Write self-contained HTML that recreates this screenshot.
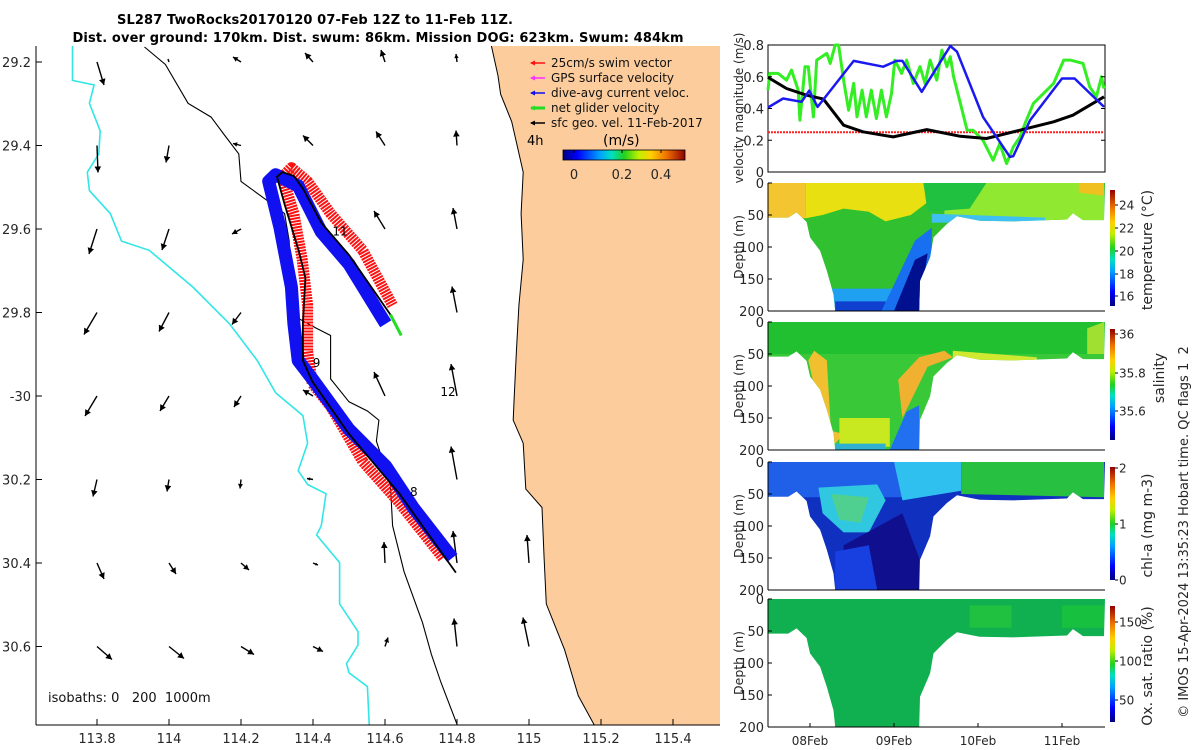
<!DOCTYPE html>
<html><head><meta charset="utf-8"><style>
body{margin:0;background:#fff}
svg{display:block;font-family:"DejaVu Sans","Liberation Sans",sans-serif}
</style></head><body>
<svg id="s" width="1200" height="750" viewBox="0 0 1200 750" xmlns="http://www.w3.org/2000/svg">
<defs>
<linearGradient id="jetH" x1="0" x2="1" y1="0" y2="0">
<stop offset="0" stop-color="#00007f"/><stop offset="0.12" stop-color="#0000ff"/><stop offset="0.3" stop-color="#00a0ff"/><stop offset="0.4" stop-color="#00e0c0"/><stop offset="0.5" stop-color="#20d020"/><stop offset="0.62" stop-color="#c0f000"/><stop offset="0.72" stop-color="#ffd000"/><stop offset="0.85" stop-color="#f07000"/><stop offset="1" stop-color="#900000"/>
</linearGradient>
<linearGradient id="jetV" x1="0" x2="0" y1="1" y2="0">
<stop offset="0" stop-color="#00007f"/><stop offset="0.12" stop-color="#0000ff"/><stop offset="0.3" stop-color="#00a0ff"/><stop offset="0.4" stop-color="#00e0c0"/><stop offset="0.5" stop-color="#20d020"/><stop offset="0.62" stop-color="#c0f000"/><stop offset="0.72" stop-color="#ffd000"/><stop offset="0.85" stop-color="#f07000"/><stop offset="1" stop-color="#900000"/>
</linearGradient>
<clipPath id="mapclip"><rect x="36" y="46" width="684" height="679"/></clipPath>
</defs>
<rect width="1200" height="750" fill="#fff"/>
<text x="315" y="24" text-anchor="middle" font-weight="bold" font-size="13" textLength="396">SL287 TwoRocks20170120 07-Feb 12Z to 11-Feb 11Z.</text>
<text x="378" y="42" text-anchor="middle" font-weight="bold" font-size="13" textLength="611">Dist. over ground: 170km. Dist. swum: 86km. Mission DOG: 623km. Swum: 484km</text>
<g id="map"></g>
<g id="vel"></g>
<g id="sec"></g>
</svg>
<script>
// ---------- MAP DATA ----------
const lonTicks=[113.8,114,114.2,114.4,114.6,114.8,115,115.2,115.4];
const latTicks=[29.2,29.4,29.6,29.8,30.0,30.2,30.4,30.6];
const latTickLabels=["29.2","29.4","29.6","29.8","-30","30.2","30.4","30.6"];
const coastLon=[114.885,114.914,114.921,114.952,114.984,114.978,114.984,114.972,114.965,114.959,114.956,114.984,114.991,115.036,115.042,115.048,115.099,115.137,115.189];
const coastLat=[29.12,29.233,29.277,29.343,29.464,29.563,29.673,29.783,29.893,30.003,30.058,30.113,30.223,30.267,30.388,30.498,30.608,30.718,30.80];
const iso1000Lon=[113.732,113.732,113.792,113.779,113.809,113.805,113.773,113.779,113.837,113.868,113.945,114.066,114.168,114.245,114.296,114.372,114.385,114.359,114.385,114.436,114.423,114.410,114.474,114.474,114.525,114.525,114.493,114.500,114.551,114.557];
const iso1000Lat=[29.12,29.244,29.255,29.299,29.365,29.420,29.464,29.508,29.563,29.629,29.651,29.739,29.827,29.915,29.992,30.047,30.113,30.179,30.212,30.234,30.311,30.333,30.399,30.498,30.564,30.597,30.641,30.663,30.696,30.80];
const iso200Lon=[113.932,113.990,114.053,114.117,114.155,114.194,114.200,114.270,114.321,114.334,114.340,114.340,114.410,114.449,114.449,114.500,114.551,114.583,114.576,114.615,114.621,114.653,114.704,114.729,114.755,114.806];
const iso200Lat=[29.164,29.206,29.299,29.332,29.376,29.420,29.486,29.530,29.563,29.629,29.739,29.805,29.838,29.855,29.959,30.014,30.036,30.058,30.108,30.212,30.311,30.421,30.542,30.619,30.685,30.80];
const trackLon=[114.797,114.640,114.500,114.398,114.372,114.372,114.379,114.360,114.321,114.300,114.315,114.347,114.372,114.423,114.500,114.615];
const trackLat=[30.423,30.234,30.091,29.965,29.915,29.827,29.717,29.651,29.541,29.475,29.464,29.473,29.503,29.585,29.662,29.805];
const currLon=[114.787,114.678,114.602,114.500,114.398,114.359,114.347,114.340,114.308,114.277,114.296,114.359,114.423,114.500,114.602];
const currLat=[30.388,30.267,30.168,30.080,29.959,29.915,29.827,29.739,29.596,29.486,29.470,29.497,29.607,29.684,29.827];
const swimLon=[114.761,114.640,114.538,114.449,114.398,114.385,114.385,114.370,114.347,114.315,114.340,114.385,114.449,114.538,114.621];
const swimLat=[30.388,30.256,30.157,30.025,29.970,29.893,29.783,29.673,29.563,29.475,29.453,29.486,29.563,29.651,29.783];
const arrowLon=[113.8,114,114.2,114.4,114.6,114.8,115];
const arrowLat=[29.2,29.4,29.6,29.8,30.0,30.2,30.4,30.6];
const arrowU=[[7,-1,-8,-8,-4,-1,null],[1,-3,-8,-10,-9,-1,null],[-8,-7,-9,null,-11,-4,null],[-13,-10,-9,null,null,-5,null],[-12,-9,-7,-10,-11,-6,null],[-4,-2,-1,-6,null,-6,null],[7,7,8,5,-1,-4,-2],[15,15,13,10,3,-3,-6]];
const arrowV=[[-23,3,5,9,12,8,null],[-27,-17,2,10,14,15,null],[-25,-21,-5,null,18,21,null],[-22,-19,-12,null,null,26,null],[-20,-15,-11,6,24,32,null],[-17,-12,-9,1,null,33,null],[-16,-11,-7,-2,21,32,28],[-13,-12,-8,-5,9,28,29]];
const trackLabels=["11","9","12","8"];
const trackLabelLon=[114.475,114.41,114.775,114.68];
const trackLabelLat=[29.615,29.93,30.0,30.24];
// ---------- VELOCITY DATA ----------
const velTicks=[0,0.2,0.4,0.6,0.8];
const dayTicks=[0.5,1.5,2.5,3.5];
const dayTickLabels=["08Feb","09Feb","10Feb","11Feb"];
const blueT=[0,0.18,0.4,0.49,0.59,1.02,1.37,1.53,1.60,1.83,2.17,2.25,2.56,2.88,2.92,3.12,3.5,3.65,4.0];
const blueV=[0.406,0.463,0.442,0.512,0.41,0.70,0.663,0.70,0.70,0.505,0.794,0.758,0.347,0.095,0.10,0.326,0.589,0.589,0.41];
const blackT=[0,0.22,0.46,0.66,0.90,1.13,1.49,1.89,2.29,2.6,3.0,3.4,3.63,4.0];
const blackV=[0.596,0.526,0.484,0.459,0.295,0.253,0.221,0.267,0.225,0.211,0.263,0.316,0.358,0.474];
const redT=[0,4];
const redV=[0.25,0.25];
const greenT=[0,0.02,0.12,0.22,0.28,0.36,0.38,0.44,0.48,0.54,0.58,0.70,0.74,0.80,0.84,0.90,0.96,1.02,1.06,1.12,1.17,1.23,1.29,1.35,1.41,1.47,1.51,1.59,1.65,1.73,1.81,1.87,1.93,2.01,2.07,2.13,2.17,2.21,2.29,2.37,2.44,2.56,2.68,2.76,2.84,2.92,3.0,3.06,3.16,3.28,3.40,3.52,3.60,3.75,3.83,3.91,3.97,4.0];
const greenV=[0.516,0.621,0.621,0.579,0.642,0.516,0.326,0.663,0.663,0.347,0.705,0.747,0.684,0.80,0.80,0.579,0.389,0.558,0.347,0.516,0.347,0.516,0.337,0.516,0.347,0.495,0.705,0.621,0.705,0.558,0.663,0.558,0.705,0.579,0.768,0.663,0.726,0.600,0.432,0.263,0.263,0.2,0.074,0.179,0.053,0.158,0.221,0.305,0.432,0.495,0.558,0.705,0.705,0.684,0.537,0.474,0.60,0.526];
// ---------- SECTION DATA ----------
const envT=[0,0.24,0.34,0.46,0.5,0.62,0.70,0.78,0.80,1.80,1.81,1.93,1.97,2.13,2.25,2.52,2.92,3.56,3.63,3.75,4.0];
const envD=[54,54,46,61,85,106,137,174,200,200,153,116,85,64,52,59,60,57,47,58,58];
const depthTicks=[0,50,100,150,200];

const NS='http://www.w3.org/2000/svg';
function mk(tag,attrs,parent){const e=document.createElementNS(NS,tag);for(const k in attrs)e.setAttribute(k,attrs[k]);parent.appendChild(e);return e;}
function txt(s,x,y,attrs,parent){const e=mk('text',Object.assign({x:x,y:y},attrs),parent);e.textContent=s;return e;}

// ---- map ----
const map=document.getElementById('map');
const X=lon=>97+(lon-113.8)*360;
const Y=lat=>62+(lat-29.2)*417.5;
const pts=(lo,la)=>lo.map((v,i)=>X(v).toFixed(1)+','+Y(la[i]).toFixed(1)).join(' ');
const mg=mk('g',{'clip-path':'url(#mapclip)'},map);
let land=mk('polygon',{points:pts(coastLon,coastLat)+' 730,740 730,40',fill:'#fccc9c',stroke:'#000','stroke-width':1},mg);


let l=mk('polyline',{points:pts(iso1000Lon,iso1000Lat),fill:'none',stroke:'#33e6e6','stroke-width':1.6},mg);


l=mk('polyline',{points:pts(iso200Lon,iso200Lat),fill:'none',stroke:'#000','stroke-width':1.1},mg);


arrowLat.forEach((la,r)=>{arrowLon.forEach((lo,c)=>{const u=arrowU[r][c],v=arrowV[r][c];if(u===null)return;
 const x0=X(lo),y0=Y(la),x1=x0+u,y1=y0-v;const g=mk('g',{},mg);
 
 
 mk('line',{x1:x0,y1:y0,x2:x1,y2:y1,stroke:'#000','stroke-width':1.4},g);
 const len=Math.hypot(u,v)||1,ux=u/len,uy=-v/len,h=Math.min(6,len*0.5);
 mk('polygon',{points:`${x1},${y1} ${x1-ux*h-uy*h*0.55},${y1-uy*h+ux*h*0.55} ${x1-ux*h+uy*h*0.55},${y1-uy*h-ux*h*0.55}`,fill:'#000'},g);});});
l=mk('polyline',{points:pts(swimLon,swimLat),fill:'none',stroke:'#ff1010','stroke-width':11,'stroke-dasharray':'2 1','stroke-linejoin':'round'},mg);


l=mk('polyline',{points:pts(currLon,currLat),fill:'none',stroke:'#1010f0','stroke-width':13,'stroke-linejoin':'round'},mg);


l=mk('polyline',{points:pts(trackLon,trackLat),fill:'none',stroke:'#000','stroke-width':1.8},mg);


l=mk('line',{x1:X(114.615),y1:Y(29.805),x2:X(114.645),y2:Y(29.855),stroke:'#22dd22','stroke-width':3},mg);


trackLabels.forEach((s,i)=>{const t=txt(s,X(trackLabelLon[i]),Y(trackLabelLat[i]),{'font-size':12,'text-anchor':'middle'},mg);
 
 });
mk('line',{x1:36,y1:46,x2:36,y2:725,stroke:'#000','stroke-width':1},map);
mk('line',{x1:36,y1:725,x2:720,y2:725,stroke:'#000','stroke-width':1},map);
lonTicks.forEach(v=>{mk('line',{x1:X(v),x2:X(v),y1:725,y2:719,stroke:'#000'},map);
 const t=txt(String(v),X(v),743,{'font-size':13,'text-anchor':'middle',fill:'#262626'},map);
 
 });
latTicks.forEach((v,i)=>{mk('line',{x1:36,x2:42,y1:Y(v),y2:Y(v),stroke:'#000'},map);
 const t=txt(latTickLabels[i],31,Y(v)+5,{'font-size':13,'text-anchor':'end',fill:'#262626'},map);
 
 });
txt('isobaths: 0\u00a0\u00a0\u00a0200\u00a0\u00a01000m',48,702,{'font-size':13,fill:'#111'},map);
const lg=mk('g',{},map);


const legTxt=['25cm/s swim vector','GPS surface velocity','dive-avg current veloc.','net glider velocity','sfc geo. vel. 11-Feb-2017'];
const legCol=['#ff1010','#ff30ff','#1010f0','#22dd22','#000'];
legTxt.forEach((s,i)=>{const y=63+i*15;mk('line',{x1:531,x2:545,y1:y,y2:y,stroke:legCol[i],'stroke-width':i==3?3:1.5},lg);
 mk('polygon',{points:`${530},${y} ${535},${y-2.5} ${535},${y+2.5}`,fill:legCol[i]},lg);
 const t=txt(s,551,y+4,{'font-size':12,fill:'#111'},lg);
 
 });
txt('4h',527,145,{'font-size':13},map);
txt('(m/s)',603,145,{'font-size':14},map);
mk('rect',{x:563,y:150,width:122,height:10,fill:'url(#jetH)',stroke:'#000','stroke-width':0.8},map);
[[0,574],[0.2,622],[0.4,661]].forEach(a=>{mk('line',{x1:a[1],x2:a[1],y1:150,y2:153,stroke:'#000'},map);txt(String(a[0]),a[1],179,{'font-size':13,'text-anchor':'middle',fill:'#262626'},map);});

// ---- velocity panel ----
const vel=document.getElementById('vel');
const TX=t=>768+t*84;
const VY=v=>172-v*158.75;
mk('rect',{x:768,y:45,width:337,height:127,fill:'#fff',stroke:'#000','stroke-width':1},vel);
const vline=(T,V,col,w,name,dash)=>{const a={points:T.map((t,i)=>TX(t).toFixed(1)+','+VY(Math.min(V[i],0.8)).toFixed(1)).join(' '),fill:'none',stroke:col,'stroke-width':w,'stroke-linejoin':'round'};if(dash)a['stroke-dasharray']=dash;const e=mk('polyline',a,vel);
 
 };
vline(redT,redV,'#ff2020',2,'swim-speed-line','2 1');
vline(greenT,greenV,'#33ee22',3,'net-glider-speed-line');
vline(blackT,blackV,'#000',3,'geo-speed-line');
vline(blueT,blueV,'#1a1af0',2.5,'current-speed-line');
velTicks.forEach(v=>{mk('line',{x1:768,x2:772,y1:VY(v),y2:VY(v),stroke:'#000'},vel);mk('line',{x1:1101,x2:1105,y1:VY(v),y2:VY(v),stroke:'#000'},vel);
 const t=txt(String(v),764,VY(v)+5,{'font-size':13,'text-anchor':'end',fill:'#262626'},vel);
 
 });
const vt=txt('velocity magnitude (m/s)',0,0,{'font-size':12,'text-anchor':'middle',transform:'translate(743,108) rotate(-90)',fill:'#262626'},vel);


// ---- sections ----
const sec=document.getElementById('sec');
const panels=[
 {top:183,name:'temperature',label:'temperature (°C)',cb:[190,306],ticks:[['24',205],['22',228],['20',251],['18',274],['16',296]],base:'#30c030',
  layers:[ ['#f3c530',[[0,0],[0.45,0],[0.45,55],[0,55]]],['#e8e010',[[0.45,0],[1.85,0],[1.9,30],[1.7,50],[1.4,60],[1.2,45],[0.9,40],[0.65,50],[0.45,55]]],
   ['#90e830',[[2.1,0],[4,0],[4,58],[2.1,58]]],['#20c040',[[1.85,0],[2.6,0],[2.4,40],[1.9,45]]],['#40c0f0',[[1.95,48],[3.3,54],[3.3,60],[1.95,62]]],
   ['#20a0f0',[[0.7,165],[1.5,165],[1.45,200],[0.75,200]]],['#1040d0',[[0.8,185],[1.4,185],[1.4,200],[0.8,200]]],['#1870f0',[[1.35,200],[1.75,90],[1.95,70],[1.95,120],[1.8,200]]],['#00108f',[[1.5,200],[1.75,120],[1.9,110],[1.8,200]]],['#f0c020',[[3.7,0],[4,0],[4,20],[3.7,15]]]]},
 {top:322,name:'salinity',label:'salinity',cb:[329,440],ticks:[['36',334],['35.8',373],['35.6',411]],base:'#38c838',
  layers:[ ['#20c030',[[0,0],[4,0],[4,50],[0,50]]],['#f0c030',[[0.55,45],[0.7,60],[0.75,170],[0.9,175],[0.8,190],[0.62,160],[0.55,100],[0.48,60]]],
   ['#c8e820',[[0.85,150],[1.45,150],[1.45,195],[0.85,195]]],['#f0b030',[[1.55,90],[1.8,55],[2.1,45],[2.2,55],[1.9,70],[1.75,110],[1.6,150]]],['#d0e830',[[2.2,45],[3.2,55],[3.2,62],[2.2,58]]],
   ['#2070f0',[[1.45,200],[1.65,140],[1.8,130],[1.8,200]]],['#30b0d0',[[0.8,190],[1.4,190],[1.4,200],[0.8,200]]],['#a0e030',[[3.8,10],[4,0],[4,50],[3.8,50]]]]},
 {top:462,name:'chlorophyll',label:'chl-a (mg m-3)',cb:[467,580],ticks:[['2',468],['1',524],['0',580]],base:'#1030c0',
  layers:[ ['#2060e8',[[0,0],[1.6,0],[1.6,55],[0,55]]],['#30c8e0',[[0.6,40],[1.3,35],[1.4,60],[1.2,110],[0.9,110],[0.65,80]]],['#50d090',[[0.75,50],[1.2,55],[1.1,95],[0.85,90]]],
   ['#30c0f0',[[1.5,0],[2.3,0],[2.3,45],[1.6,60]]],['#28c040',[[2.3,0],[4,0],[4,55],[2.3,50]]],['#10108f',[[0.9,130],[1.6,80],[1.8,150],[1.8,200],[0.9,200]]],['#1840e0',[[0.8,140],[1.2,130],[1.3,200],[0.8,200]]]]},
 {top:599,name:'oxygen',label:'Ox. sat. ratio (%)',cb:[606,722],ticks:[['150',622],['100',661],['50',700]],base:'#10b050',layers:[['#20c040',[[2.4,10],[2.9,10],[2.9,45],[2.4,45]]],['#18c040',[[3.5,10],[4,10],[4,45],[3.5,45]]]]}
];
panels.forEach((p,pi)=>{
 const g=mk('g',{},sec);
 
 
 const DY=d=>p.top+d*0.64;
 const cid='env'+pi;
 const cp=mk('clipPath',{id:cid},g);
 mk('polygon',{points:'768,'+p.top+' 1105,'+p.top+' '+envT.slice().reverse().map((t,i)=>TX(t).toFixed(1)+','+DY(envD[envD.length-1-i]).toFixed(1)).join(' ')},cp);
 const cg=mk('g',{'clip-path':'url(#'+cid+')'},g);
 mk('rect',{x:768,y:p.top,width:337,height:128,fill:p.base},cg);
 p.layers.forEach(L=>{mk('polygon',{points:L[1].map(q=>TX(q[0]).toFixed(1)+','+DY(q[1]).toFixed(1)).join(' '),fill:L[0]},cg);});
 mk('line',{x1:768,x2:768,y1:p.top,y2:p.top+128,stroke:'#000'},g);
 mk('line',{x1:768,x2:1105,y1:p.top+128,y2:p.top+128,stroke:'#000'},g);
 depthTicks.forEach(d=>{mk('line',{x1:768,x2:772,y1:DY(d),y2:DY(d),stroke:'#000'},g);
  const t=txt(String(d),764,DY(d)+5,{'font-size':13,'text-anchor':'end',fill:'#262626'},g);
  
  });
 const dt=txt('Depth (m)',0,0,{'font-size':12.5,'text-anchor':'middle',transform:`translate(743,${p.top+64}) rotate(-90)`,fill:'#262626'},g);
 
 mk('rect',{x:1110,y:p.cb[0],width:5,height:p.cb[1]-p.cb[0],fill:'url(#jetV)'},g);
 p.ticks.forEach(k=>{mk('line',{x1:1115,x2:1118,y1:k[1],y2:k[1],stroke:'#000'},g);txt(k[0],1119,k[1]+4.5,{'font-size':12,fill:'#262626'},g);});
 const cx=pi==1?1164:1152, cy=pi==1?378:(p.cb[0]+p.cb[1])/2+2;
 const lt=txt(p.label,0,0,{'font-size':14,'text-anchor':'middle',transform:`translate(${cx},${cy}) rotate(-90)`,fill:'#262626'},g);
 
 
});
dayTicks.forEach((d,i)=>{mk('line',{x1:TX(d),x2:TX(d),y1:727,y2:723,stroke:'#000'},sec);
 const t=txt(dayTickLabels[i],TX(d),745,{'font-size':12,'text-anchor':'middle',fill:'#262626'},sec);
 
 });
const cr=txt('© IMOS 15-Apr-2024 13:35:23 Hobart time. QC flags 1\u00a0\u00a02',0,0,{'font-size':13,'text-anchor':'middle',transform:'translate(1188,532) rotate(-90)',fill:'#262626'},sec);


</script>
</body></html>
